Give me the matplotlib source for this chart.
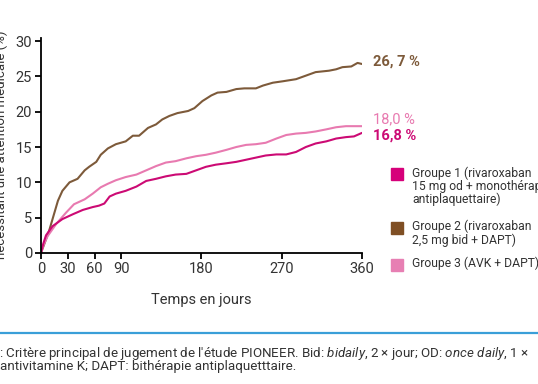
import matplotlib
matplotlib.use("Agg")
import matplotlib.pyplot as plt

plt.rcParams['font.family'] = ['Roboto', 'DejaVu Sans']
plt.rcParams['mathtext.fontset'] = 'custom'
plt.rcParams['mathtext.rm'] = 'Roboto'
plt.rcParams['mathtext.it'] = 'Roboto:italic'

# ---- data ----
g2_days = [0, 9, 19, 24, 32, 41, 49, 54, 62, 67, 75, 84, 95, 103, 110, 120, 129, 136, 144, 153,
           165, 172, 181, 191, 198, 208, 219, 228, 241, 249, 260, 271, 286, 297, 308, 323, 331,
           338, 348, 355, 360]
g2_vals = [0.0, 3.1, 7.4, 8.8, 10.0, 10.5, 11.7, 12.2, 12.9, 13.9, 14.8, 15.4, 15.8, 16.6, 16.6,
           17.7, 18.2, 18.9, 19.4, 19.8, 20.1, 20.5, 21.5, 22.3, 22.7, 22.8, 23.2, 23.3, 23.3,
           23.7, 24.1, 24.3, 24.6, 25.1, 25.6, 25.8, 26.0, 26.3, 26.4, 26.9, 26.75]

g3_days = [0, 3, 7.5, 17, 28, 37, 49, 58, 67, 75, 84, 95, 107, 118, 129, 140, 151, 163, 174, 185,
           196, 208, 219, 230, 241, 252, 264, 275, 286, 297, 308, 320, 331, 342, 360]
g3_vals = [0.0, 1.2, 2.4, 4.1, 5.7, 6.9, 7.6, 8.4, 9.3, 9.8, 10.3, 10.75, 11.1, 11.7, 12.3, 12.8,
           13.0, 13.4, 13.7, 13.9, 14.2, 14.6, 15.0, 15.3, 15.4, 15.6, 16.2, 16.7, 16.9, 17.0,
           17.2, 17.5, 17.8, 17.95, 17.95]

g1_days = [0, 2.5, 5.6, 13, 24, 36, 47, 58, 65, 71, 77, 84, 95, 107, 118, 129, 140, 151, 163, 174,
           185, 196, 208, 219, 230, 241, 252, 264, 275, 286, 297, 308, 320, 331, 342, 351, 360]
g1_vals = [0.0, 1.3, 2.5, 3.8, 4.8, 5.5, 6.1, 6.5, 6.7, 7.0, 8.0, 8.4, 8.8, 9.4, 10.2, 10.5, 10.85,
           11.1, 11.2, 11.7, 12.2, 12.5, 12.7, 12.9, 13.2, 13.5, 13.8, 13.95, 13.95, 14.3, 15.0,
           15.5, 15.8, 16.2, 16.4, 16.5, 17.0]

end_labels = ["16,8 %", "26, 7 %", "18,0 %"]
end_values = [16.8, 26.7, 18.0]
x_ticks = [0, 30, 60, 90, 180, 270, 360]
y_ticks = [0, 5, 10, 15, 20, 25, 30]
legend_lines = [
    ["Groupe 1 (rivaroxaban", "15 mg od + monothérapie", "antiplaquettaire)"],
    ["Groupe 2 (rivaroxaban", "2,5 mg bid + DAPT)"],
    ["Groupe 3 (AVK + DAPT)"],
]

c1 = "#cc0a74"
c2 = "#7d5a3a"
c3 = "#e87ab0"
sq = ["#d6007a", "#7f4f24", "#e77fb3"]
tc = "#333333"

W, H = 538, 384
fig = plt.figure(figsize=(W / 100, H / 100), dpi=100)

def fx(x):
    return x / W

def fy(y):
    return 1 - y / H

ax = fig.add_axes([fx(41), fy(253), fx(362) - fx(41), fy(38.2) - fy(253)])
ax.plot(g2_days, g2_vals, color=c2, lw=1.5, solid_capstyle='round')
ax.plot(g3_days, g3_vals, color=c3, lw=1.5, solid_capstyle='round')
ax.plot(g1_days, g1_vals, color=c1, lw=1.5, solid_capstyle='round')
ax.set_xlim(0, 360)
ax.set_ylim(0, 30.4)
ax.set_xticks(x_ticks)
ax.set_yticks(y_ticks)
for s in ['top', 'right']:
    ax.spines[s].set_visible(False)
for s in ['left', 'bottom']:
    ax.spines[s].set_linewidth(1.3)
ax.tick_params(axis='both', length=4.5, width=1.3, labelsize=10.5, colors='black',
               labelcolor=tc, pad=2)
ax.set_xlabel("Temps en jours", fontsize=10.5, color=tc, labelpad=12)

# end labels
offs = [(8, -1.2), (8, 1.7), (8, 4.9)]
cols = [c1, c2, c3]
weights = ['bold', 'bold', 'normal']
for lab, v, o, c, w in zip(end_labels, end_values, offs, cols, weights):
    ax.annotate(lab, xy=(360, v), xytext=o, textcoords='offset points',
                ha='left', va='center', fontsize=10.5, color=c, fontweight=w,
                annotation_clip=False)

# y label (partially cut at left edge, as in the reference)
fig.text(fx(1.5), fy(145), "nécessitant une attention médicale (%)", rotation=90,
         ha='center', va='center', fontsize=9.5, color=tc)

# legend
sq_y = [174.5, 228, 264.5]
for i, (lines, c) in enumerate(zip(legend_lines, sq)):
    y0 = sq_y[i]
    fig.patches.append(plt.Rectangle((fx(391), fy(y0 + 6)), fx(11.5), 12 / H,
                                     transform=fig.transFigure, color=c, figure=fig))
    for j, t in enumerate(lines):
        fig.text(fx(412), fy(y0 - 1.5 + j * 13.3), t, ha='left', va='center',
                 fontsize=8.7, color=tc)

# caption
fig.add_artist(plt.Line2D([0, 1], [fy(333), fy(333)], transform=fig.transFigure,
                          color="#3a9fd8", lw=1.6))
fig.text(fx(-1), fy(353),
         r": Critère principal de jugement de l'étude PIONEER. Bid: $\it{bidaily}$, 2 × jour; OD: $\it{once\ daily}$, 1 ×",
         ha='left', va='center', fontsize=9.6, color=tc)
fig.text(fx(0), fy(366.5), "antivitamine K; DAPT: bithérapie antiplaquetttaire.",
         ha='left', va='center', fontsize=9.6, color=tc)

fig.savefig("out.png", dpi=100)
